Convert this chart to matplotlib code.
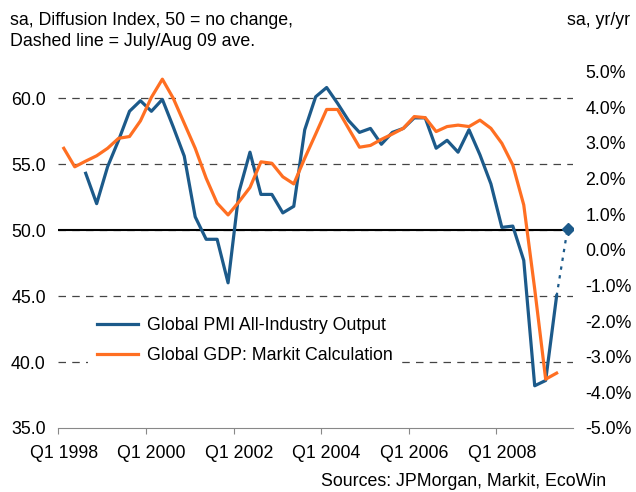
import numpy as np
import matplotlib.pyplot as plt
from matplotlib.lines import Line2D

plt.rcParams['font.family'] = ['Liberation Sans', 'DejaVu Sans']

# quarterly data, Q1 1998 .. Q2 2009
pmi = [np.nan, np.nan, 54.3, 52.0, 54.8, 56.8, 59.0, 59.8, 59.0, 59.9,
       57.8, 55.6, 51.0, 49.3, 49.3, 46.0, 52.9, 55.9, 52.7, 52.7,
       51.3, 51.8, 57.6, 60.1, 60.8, 59.6, 58.3, 57.4, 57.7, 56.5,
       57.4, 57.7, 58.5, 58.5, 56.2, 56.8, 55.9, 57.6, 55.7, 53.5,
       50.2, 50.3, 47.7, 38.2, 38.6, 45.0]
gdp = [2.85, 2.33, 2.49, 2.64, 2.85, 3.13, 3.18, 3.62, 4.28, 4.79,
       4.25, 3.55, 2.85, 2.01, 1.31, 0.98, 1.35, 1.75, 2.47, 2.43,
       2.05, 1.85, 2.57, 3.25, 3.94, 3.94, 3.41, 2.88, 2.93, 3.10,
       3.25, 3.41, 3.74, 3.71, 3.32, 3.46, 3.50, 3.46, 3.64, 3.41,
       2.99, 2.38, 1.26, -1.10, -3.63, -3.46]
# July/Aug 09 average (Q3 2009)
jul_aug = 50.1
xlabels = ['Q1 1998', 'Q1 2000', 'Q1 2002', 'Q1 2004', 'Q1 2006', 'Q1 2008']

blue = '#1C5A8A'
orange = '#FF6F22'
fs = 12.8

fig = plt.figure(figsize=(6.36, 4.92), dpi=100)
ax = fig.add_axes([0.0917, 0.1301, 0.8093, 0.7242])
ax2 = ax.twinx()

x = np.arange(len(pmi)) + 0.5

ax.set_xlim(0, 47)
ax.set_ylim(35, 62)
ax2.set_ylim(-5, 5)

for v in [40, 45, 55, 60]:
    ax.axhline(v, color='#444444', lw=0.9, ls=(0, (6, 5)), zorder=1)
ax.axhline(50, color='#444444', lw=0.9, ls=(0, (6, 5)), zorder=1)
ax.axhline(50, color='black', lw=1.5, zorder=2)

ax.plot(x, pmi, color=blue, lw=2.3, zorder=4)
ax.plot([x[-1], x[-1] + 1], [pmi[-1], jul_aug], color=blue, lw=1.6,
        ls=(0, (1.5, 2.5)), zorder=4)
ax.plot([x[-1] + 1], [jul_aug], marker='D', color=blue, ms=6.5, zorder=5)
ax2.plot(x, gdp, color=orange, lw=2.3, zorder=3)

for s in ['top', 'left', 'right']:
    ax.spines[s].set_visible(False)
    ax2.spines[s].set_visible(False)
ax.spines['bottom'].set_color('#888888')
ax2.spines['bottom'].set_visible(False)

ax.set_xticks(np.arange(0, 41, 8))
ax.set_xticklabels([])
ax.set_xticks(np.arange(0, 41, 8) + 0.5, minor=True)
ax.set_xticklabels(xlabels, minor=True, fontsize=fs)
ax.tick_params(axis='x', which='major', length=4, color='#888888')
ax.tick_params(axis='x', which='minor', length=0, pad=12)

ax.set_yticks(np.arange(35, 61, 5))
ax.set_yticklabels(['%.1f' % v for v in np.arange(35, 61, 5)], fontsize=fs)
ax.tick_params(axis='y', length=0, pad=9)
ax2.set_yticks(np.arange(-5, 6, 1))
ax2.set_yticklabels(['%.1f%%' % v for v in np.arange(-5, 6, 1)], fontsize=fs)
ax2.tick_params(axis='y', length=0, pad=9)

handles = [Line2D([], [], color=blue, lw=2.3), Line2D([], [], color=orange, lw=2.3)]
leg = ax2.legend(handles, ['Global PMI All-Industry Output', 'Global GDP: Markit Calculation'],
                 loc='upper left', bbox_to_anchor=(0.04, 0.36), frameon=True,
                 fontsize=fs, handlelength=2.3, handletextpad=0.55, labelspacing=0.72,
                 borderpad=0.5, fancybox=False)
leg.get_frame().set_edgecolor('none')
leg.get_frame().set_facecolor('white')
leg.get_frame().set_alpha(1)
leg.set_zorder(10)

fig.text(0.016, 0.975, 'sa, Diffusion Index, 50 = no change,\nDashed line = July/Aug 09 ave.',
         fontsize=fs, va='top', ha='left', linespacing=1.3)
fig.text(0.99, 0.975, 'sa, yr/yr', fontsize=fs, va='top', ha='right')
fig.text(0.953, 0.004, 'Sources: JPMorgan, Markit, EcoWin', fontsize=fs, ha='right', va='bottom')

fig.savefig('out.png', dpi=100)
